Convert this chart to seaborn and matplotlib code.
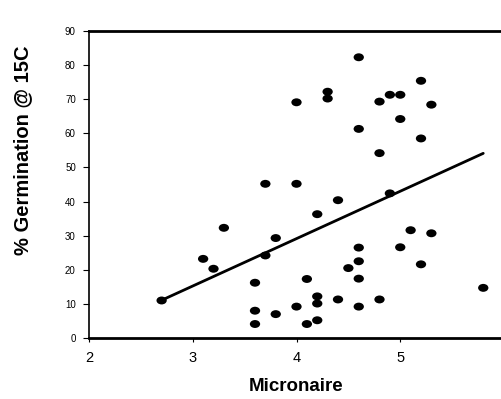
import numpy as np
import pandas as pd
import matplotlib
matplotlib.use("Agg")
import matplotlib.pyplot as plt
from matplotlib.path import Path
import seaborn as sns

micronaire = [2.7, 3.1, 3.2, 3.3, 3.6, 3.6, 3.6, 3.7, 3.7, 3.8, 3.8,
              4.0, 4.0, 4.0, 4.1, 4.1, 4.2, 4.2, 4.2, 4.2, 4.3, 4.3,
              4.4, 4.4, 4.5, 4.6, 4.6, 4.6, 4.6, 4.6, 4.6, 4.8, 4.8, 4.8,
              4.9, 4.9, 5.0, 5.0, 5.0, 5.1, 5.2, 5.2, 5.2, 5.3, 5.3, 5.8]
germination = [11.0, 23.2, 20.3, 32.3, 16.2, 8.0, 4.1, 45.2, 24.2, 29.3, 7.0,
               69.1, 45.2, 9.2, 17.3, 4.1, 36.3, 12.2, 10.1, 5.2, 72.2, 70.2,
               40.4, 11.3, 20.5, 82.3, 61.3, 26.5, 22.5, 17.4, 9.2, 69.3, 54.2, 11.3,
               71.3, 42.4, 71.3, 64.2, 26.6, 31.6, 75.4, 58.5, 21.6, 68.4, 30.7, 14.7]
x_ticks = [2, 3, 4, 5, 6]
y_ticks = [0, 10, 20, 30, 40, 50, 60, 70, 80, 90]

df = pd.DataFrame({"Micronaire": micronaire, "Germ": germination})

sns.set_style("white")
plt.rcParams['font.family'] = ['Liberation Sans', 'DejaVu Sans']
plt.rcParams['text.color'] = 'black'
plt.rcParams['axes.labelcolor'] = 'black'
plt.rcParams['xtick.color'] = 'black'
plt.rcParams['ytick.color'] = 'black'

fig = plt.figure(figsize=(5.02, 3.99), dpi=100)
ax = fig.add_axes([89/502, 1 - 338/399, (504 - 89)/502, (338 - 31)/399])

# elliptical marker
circ = Path.unit_circle()
ell = Path(circ.vertices * np.array([1.3, 1.0]), circ.codes)

sns.regplot(data=df, x="Micronaire", y="Germ", ax=ax, ci=None, truncate=True,
            marker=ell,
            scatter_kws=dict(s=55, color="black", alpha=1, edgecolors="none", linewidths=0),
            line_kws=dict(color="black", lw=2.0))

ax.set_xlim(2, 6)
ax.set_ylim(0, 90)
ax.set_xticks(x_ticks)
ax.set_yticks(y_ticks)
ax.set_xticklabels([str(t) for t in x_ticks], fontsize=10.5)
ax.set_yticklabels([str(t) for t in y_ticks], fontsize=7)
ax.tick_params(axis='y', direction='out', length=4.5, width=0.8, pad=5, left=True)
ax.tick_params(axis='x', direction='out', length=3, width=0.8, pad=6, bottom=True)

ax.spines['left'].set_linewidth(1.2)
for s in ['top', 'bottom']:
    ax.spines[s].set_linewidth(2.0)
ax.spines['right'].set_visible(False)
for s in ['left', 'top', 'bottom']:
    ax.spines[s].set_color('black')

ax.set_xlabel("Micronaire", fontsize=13.5, fontweight='bold', labelpad=10)
ax.set_ylabel("% Germination @ 15C", fontsize=14.5, fontweight='bold')
ax.yaxis.set_label_coords(-0.136, 0.61)

fig.savefig("out.png", dpi=100)
